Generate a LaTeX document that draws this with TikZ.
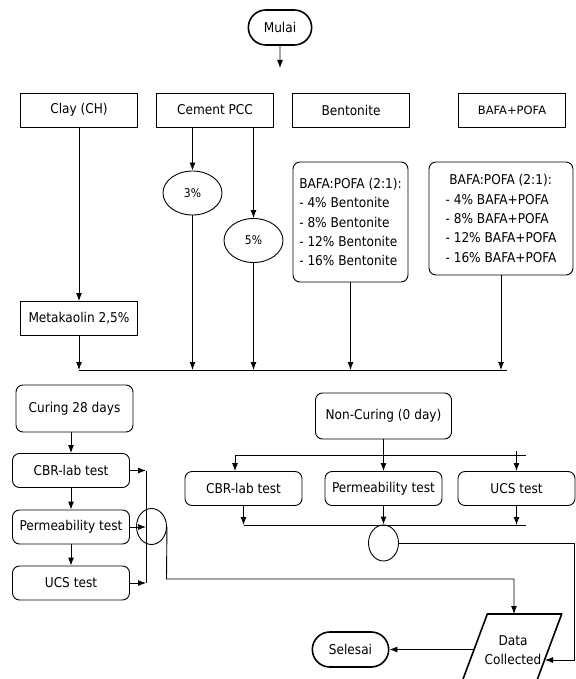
\documentclass[tikz,border=0pt]{standalone}
\usepackage{fontspec}
\setmainfont{DejaVu Sans Condensed}
\newfontfamily\widefont{DejaVu Sans}
\usepackage{tikz}
\usetikzlibrary{positioning,shapes,arrows.meta}
\tikzset{text font/.style={font=\fontsize{13.5}{19.3}\selectfont}}
\tikzset{box node/.style={rectangle,draw,text font,minimum width=117pt,minimum height=34pt,inner sep=2pt}}
\tikzset{round node/.style={box node,rounded corners=7pt}}
\tikzset{term node/.style={rounded rectangle,draw,line width=1.6pt,text font,minimum width=70pt,minimum height=35pt}}
\tikzset{pct node/.style={ellipse,draw,font=\fontsize{12}{14}\selectfont,minimum width=59pt,minimum height=44pt,inner sep=0pt}}
\tikzset{join node/.style={ellipse,draw,minimum width=30pt,minimum height=36pt,inner sep=0pt}}
\tikzset{data line/.style={draw,line width=1.6pt,line join=round}}

\begin{document}
\begin{tikzpicture}[x=1pt,y=-1pt,>={Latex[length=8pt,width=6pt]},line width=0.9pt]
\useasboundingbox (0,0) rectangle (575,679);

% start
\node[term node] (mulai) at (280,27.5) {Mulai};
\coordinate (mulaiend) at (280,68);
\draw[->] (mulai) -- (mulaiend);

% materials
\node[box node] (clay) at (79,110) {Clay (CH)};
\node[box node] (cement) at (215,110) {Cement PCC};
\node[box node] (bento) at (351,110) {Bentonite};
\node[box node,minimum width=107pt,font=\widefont\fontsize{11.5}{14}\selectfont] (bafa) at (512,110) {BAFA+POFA};

\node[pct node] (p3) at (192.5,193) {3\%};
\node[pct node] (p5) at (253.5,240.5) {5\%};
\node[round node,align=left,minimum width=115pt,minimum height=120pt] (bentomix) at (350.5,222)
  {BAFA:POFA (2:1):\\- 4\% Bentonite\\- 8\% Bentonite\\- 12\% Bentonite\\- 16\% Bentonite};
\node[round node,align=left,minimum width=144pt,minimum height=113pt] (bafamix) at (501,218.5)
  {\ BAFA:POFA (2:1):\\- 4\% BAFA+POFA\\- 8\% BAFA+POFA\\- 12\% BAFA+POFA\\- 16\% BAFA+POFA};
\node[box node] (meta) at (79,318.5) {Metakaolin 2,5\%};

% mixing line
\coordinate (mixL) at (79,370);
\coordinate (mixR) at (507,370);
\draw (mixL) -- (mixR);

\draw[->] (clay) -- (meta);
\draw[->] (p3 |- cement.south) -- (p3);
\draw[->] (p5 |- cement.south) -- (p5);
\foreach \n in {meta,p3,p5,bentomix,bafamix}{
    \draw[->] (\n) -- (\n |- mixL);
}

% curing 28 days
\node[round node,minimum height=47pt] (cure) at (74.5,408.5) {Curing 28 days};
\node[round node] (cbrL) at (71,470.5) {CBR-lab test};
\node[round node] (permL) at (71,527) {Permeability test};
\node[round node] (ucsL) at (71,583) {UCS test};
\node[join node] (joinL) at (151.5,526.5) {};

\draw[->] (cbrL |- cure.south) -- (cbrL);
\draw[->] (cbrL) -- (permL);
\draw[->] (permL) -- (ucsL);

\coordinate (busL) at (146,470.5);
\foreach \n in {cbrL,permL,ucsL}{
    \draw[->] (\n) -- (\n -| busL);
}
\draw (cbrL -| busL) -- (ucsL -| busL);

% non-curing
\node[round node,minimum width=136pt,minimum height=46pt] (noncure) at (383.5,416) {Non-Curing (0 day)};
\node[round node] (cbrR) at (243.5,488.5) {CBR-lab test};
\node[round node] (permR) at (383.5,488.5) {Permeability test};
\node[round node] (ucsR) at (516.5,488.5) {UCS test};
\node[join node] (joinR) at (383.5,543) {};

\coordinate (splitL) at (235,455);
\coordinate (splitR) at (526,455);
\coordinate (tickR) at (516.5,451);
\draw (splitL) -- (splitR);
\draw[->] (noncure) -- (permR);
\draw[->] (splitL) -- (splitL |- cbrR.north);
\draw[->] (tickR) -- (ucsR);

\coordinate (mergeL) at (243.5,525);
\coordinate (mergeR) at (526,525);
\draw (mergeL) -- (mergeR);
\draw[->] (cbrR) -- (cbrR |- mergeL);
\draw[->] (permR) -- (joinR);
\draw[->] (ucsR) -- (ucsR |- mergeL);

% end
\node[text font,align=center,inner sep=0pt] (data) at (513,650) {Data\\Collected};
\draw[data line] (487.3,614) -- (561.7,614) -- (529.6,700) -- (455.2,700) -- cycle;
\coordinate (dataN) at (514,614);
\coordinate (dataE) at (545,660);
\coordinate (dataW) at (474.5,649.5);
\node[term node,minimum width=83pt] (selesai) at (350.5,649.5) {Selesai};

\coordinate (turnL) at (166.5,579);
\draw[->] (joinL.east) -- (turnL) -| (dataN);
\coordinate (turnR) at (574,543);
\coordinate (cornerR) at (574,660);
\draw[->] (joinR) -- (turnR) -- (cornerR) -- (dataE);
\draw[->] (dataW) -- (selesai);
\end{tikzpicture}
\end{document}
